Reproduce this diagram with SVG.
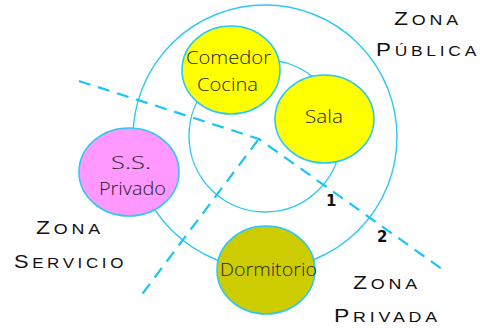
<svg xmlns="http://www.w3.org/2000/svg" width="487" height="328" viewBox="0 0 487 328">
<style>
.ring{fill:none;stroke:#2EC8F5;stroke-width:1.4}
.dash{fill:none;stroke:#1AC4F5;stroke-width:2.2;stroke-dasharray:12 8}
.node{stroke:#2EC8F5;stroke-width:1.6}
.lbl{font-family:"Open Sans","DejaVu Sans",sans-serif;font-weight:300;font-size:19px;fill:#222;text-anchor:start}
.zone{font-family:"Liberation Sans","DejaVu Sans",sans-serif;fill:#111;font-size:14px;letter-spacing:3px}
.zone .big{font-size:18px}
.num{font-family:"DejaVu Sans",sans-serif;font-weight:bold;font-size:15px;fill:#111}
</style>
<rect width="487" height="328" fill="#fff"/>
<g id="connectors">
  <circle class="ring" cx="265" cy="137" r="132"/>
  <circle class="ring" cx="265" cy="136" r="76"/>
  <polyline class="dash" points="79,81 259,139 442,269"/>
  <line class="dash" x1="258" y1="140" x2="140" y2="297"/>
</g>
<g id="comedor">
  <ellipse class="node" cx="231" cy="70" rx="49" ry="44" fill="#FFFF00"/>
  <text class="lbl" x="186" y="64" textLength="85" lengthAdjust="spacingAndGlyphs">Comedor</text>
  <text class="lbl" x="197" y="91" textLength="61" lengthAdjust="spacingAndGlyphs">Cocina</text>
</g>
<g id="sala">
  <ellipse class="node" cx="324.5" cy="119" rx="49.5" ry="44" fill="#FFFF00"/>
  <text class="lbl" x="305" y="123" textLength="38" lengthAdjust="spacingAndGlyphs">Sala</text>
</g>
<g id="ssprivado">
  <ellipse class="node" cx="129" cy="172" rx="50" ry="44" fill="#FF99FF"/>
  <text class="lbl" x="111" y="169" textLength="40" lengthAdjust="spacingAndGlyphs">S.S.</text>
  <text class="lbl" x="99" y="195" textLength="67" lengthAdjust="spacingAndGlyphs">Privado</text>
</g>
<g id="dormitorio">
  <ellipse class="node" cx="266" cy="270" rx="49" ry="44" fill="#CCCC00"/>
  <text class="lbl" x="220" y="276" textLength="97" lengthAdjust="spacingAndGlyphs">Dormitorio</text>
</g>
<g id="labels">
  <text class="zone" x="394" y="25" textLength="68" lengthAdjust="spacingAndGlyphs"><tspan class="big">Z</tspan>ONA</text>
  <text class="zone" x="376" y="56" textLength="104" lengthAdjust="spacingAndGlyphs"><tspan class="big">P</tspan>ÚBLICA</text>
  <text class="zone" x="36" y="234" textLength="68" lengthAdjust="spacingAndGlyphs"><tspan class="big">Z</tspan>ONA</text>
  <text class="zone" x="14" y="268" textLength="113" lengthAdjust="spacingAndGlyphs"><tspan class="big">S</tspan>ERVICIO</text>
  <text class="zone" x="353" y="289" textLength="68" lengthAdjust="spacingAndGlyphs"><tspan class="big">Z</tspan>ONA</text>
  <text class="zone" x="334" y="322" textLength="107" lengthAdjust="spacingAndGlyphs"><tspan class="big">P</tspan>RIVADA</text>
  <text class="num" x="326" y="206">1</text>
  <text class="num" x="377" y="242">2</text>
</g>
</svg>
